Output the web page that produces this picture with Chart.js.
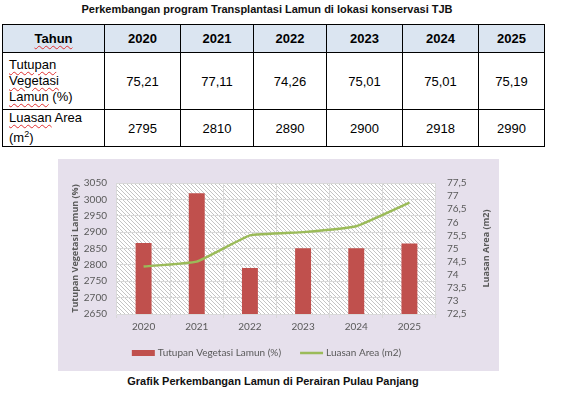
<!DOCTYPE html>
<html lang="id">
<head>
<meta charset="UTF-8">
<title>Perkembangan Lamun</title>
<script src="https://cdn.jsdelivr.net/npm/chart.js"></script>
<style>
  body { margin: 0; width: 568px; height: 412px; background: #fff; position: relative; overflow: hidden;
         font-family: "Liberation Sans", Arial, sans-serif; color: #000; }
  #title { position: absolute; left: 0; width: 534px; top: 3px; text-align: center; font-weight: bold; font-size: 11px; color: #111; }
  #tbl { position: absolute; left: 2px; top: 24px; border-collapse: collapse; table-layout: fixed; width: 542px; font-size: 13px; }
  #tbl td, #tbl th { border: 1px solid #000; text-align: center; padding: 0; }
  #tbl th { background: #dbe5f1; font-weight: bold; height: 27px; }
  #tbl td.head { text-align: left; padding-left: 6px; line-height: 16px; }
  .sp { text-decoration: underline wavy #e03030; text-decoration-thickness: 1px; text-underline-offset: 2px; }
  #panel { position: absolute; left: 58px; top: 159px; width: 441px; height: 212px; background: #e6e0ec; }
  #chart { position: absolute; left: 58px; top: 159px; }
  #caption { position: absolute; left: 0; width: 546px; top: 375px; text-align: center; font-weight: bold; font-size: 11px; color: #111; }
</style>
</head>
<body>
  <div id="title">Perkembangan program Transplantasi Lamun di lokasi konservasi TJB</div>
  <table id="tbl">
    <colgroup>
      <col style="width:102px"><col style="width:76px"><col style="width:73px"><col style="width:73px">
      <col style="width:76px"><col style="width:76px"><col style="width:66px">
    </colgroup>
    <thead><tr id="headRow"><th><span class="sp">Tahun</span></th></tr></thead>
    <tbody>
      <tr id="rowTutupan" style="height:57px"><td class="head"><span class="sp">Tutupan</span><br><span class="sp">Vegetasi</span><br><span class="sp">Lamun</span> (%)</td></tr>
      <tr id="rowLuasan" style="height:34px"><td class="head"><span class="sp">Luasan</span> Area<br>(m<sup style="font-size:9px">2</sup>)</td></tr>
    </tbody>
  </table>
  <div id="panel"></div>
  <canvas id="chart" width="441" height="212"></canvas>
  <div id="caption">Grafik Perkembangan Lamun di Perairan Pulau Panjang</div>

<script>
  const years = ['2020', '2021', '2022', '2023', '2024', '2025'];
  const tutupanVegetasi = [75.21, 77.11, 74.26, 75.01, 75.01, 75.19];
  const luasanArea = [2795, 2810, 2890, 2900, 2918, 2990];
  const leftAxis = [2650, 3050, 50];     // min, max, step
  const rightAxis = [72.5, 77.5, 0.5];

  const comma = v => String(v).replace('.', ',');

  // table rows from the same arrays
  const addCells = (rowId, values, tag) => {
    const row = document.getElementById(rowId);
    values.forEach(v => {
      const c = document.createElement(tag);
      c.textContent = v;
      row.appendChild(c);
    });
  };
  addCells('headRow', years, 'th');
  addCells('rowTutupan', tutupanVegetasi.map(v => v.toFixed(2).replace('.', ',')), 'td');
  addCells('rowLuasan', luasanArea, 'td');

  const grey = '#595959';
  const tickFont = { family: 'Lato', size: 10 };
  const titleFont = { family: '"Open Sans"', size: 9, weight: 'bold' };

  let hatch = null;
  const plotBackdrop = {
    id: 'plotBackdrop',
    beforeDraw(chart) {
      const { ctx, chartArea: a } = chart;
      if (!hatch) {
        const c = document.createElement('canvas');
        c.width = 4; c.height = 4;
        const g = c.getContext('2d');
        g.fillStyle = '#fff';
        g.fillRect(0, 0, 4, 4);
        g.strokeStyle = '#c4c4c4';
        g.lineWidth = 1;
        g.beginPath(); g.moveTo(-1, -1); g.lineTo(5, 5); g.stroke();
        hatch = ctx.createPattern(c, 'repeat');
      }
      ctx.save();
      ctx.fillStyle = hatch;
      ctx.fillRect(a.left, a.top, a.right - a.left, a.bottom - a.top);
      ctx.restore();
    }
  };

  // right axis title reads upward (like the left one) + simple legend row
  const extras = {
    id: 'extras',
    afterDraw(chart) {
      const ctx = chart.ctx;
      const y1 = chart.scales.y1;
      ctx.save();
      ctx.font = 'bold 9px "Open Sans"';
      ctx.fillStyle = grey;
      ctx.textAlign = 'center';
      ctx.textBaseline = 'middle';
      ctx.translate(y1.right - 13, (y1.top + y1.bottom) / 2);
      ctx.rotate(-Math.PI / 2);
      ctx.fillText(y1.options.title.text, 0, 0);
      ctx.restore();

      ctx.save();
      ctx.font = '10px Lato';
      ctx.textBaseline = 'middle';
      ctx.textAlign = 'left';
      const sw = 23, gap = 3, between = 19;
      const items = chart.data.datasets.map(ds => ({
        label: ds.label,
        isLine: ds.type === 'line',
        color: ds.type === 'line' ? ds.borderColor : ds.backgroundColor
      }));
      const widths = items.map(it => sw + gap + ctx.measureText(it.label).width);
      const total = widths.reduce((s, w) => s + w, 0) + between * (items.length - 1);
      let x = 208.5 - total / 2;
      const y = 194;
      items.forEach((it, i) => {
        if (it.isLine) {
          ctx.strokeStyle = it.color;
          ctx.lineWidth = 2.5;
          ctx.beginPath(); ctx.moveTo(x, y); ctx.lineTo(x + sw, y); ctx.stroke();
        } else {
          ctx.fillStyle = it.color;
          ctx.fillRect(x, y - 3, sw, 6);
        }
        ctx.fillStyle = grey;
        ctx.fillText(it.label, x + sw + gap, y);
        x += widths[i] + between;
      });
      ctx.restore();
    }
  };

  new Chart(document.getElementById('chart'), {
    type: 'bar',
    data: {
      labels: years,
      datasets: [
        {
          type: 'bar',
          label: 'Tutupan Vegetasi Lamun (%)',
          data: tutupanVegetasi,
          yAxisID: 'y1',
          backgroundColor: '#c0504d',
          barPercentage: 0.3,
          categoryPercentage: 1,
          order: 2
        },
        {
          type: 'line',
          label: 'Luasan Area (m2)',
          data: luasanArea,
          yAxisID: 'y',
          borderColor: '#9bbb59',
          borderWidth: 2.5,
          pointRadius: 0,
          tension: 0.1,
          order: 1
        }
      ]
    },
    options: {
      responsive: false,
      animation: false,
      layout: { padding: { top: 24, bottom: 33, left: 0, right: 0 } },
      plugins: { legend: { display: false }, tooltip: { enabled: false } },
      scales: {
        x: {
          grid: { color: '#d9d9d9', tickLength: 4, offset: true },
          border: { color: '#d9d9d9' },
          ticks: { color: grey, font: tickFont, padding: 3 },
          afterFit(s) { s.height = 24; }
        },
        y: {
          position: 'left',
          min: leftAxis[0], max: leftAxis[1],
          ticks: { stepSize: leftAxis[2], color: grey, font: tickFont, padding: 10, autoSkip: false,
                   callback: v => String(v) },
          grid: { color: '#d9d9d9', drawTicks: false },
          border: { display: false },
          title: { display: true, text: 'Tutupan Vegetasi Lamun (%)', color: grey,
                   font: titleFont, padding: { top: 12, bottom: 0 } },
          afterFit(s) { s.width = 59; }
        },
        y1: {
          position: 'right',
          min: rightAxis[0], max: rightAxis[1],
          ticks: { stepSize: rightAxis[2], color: grey, font: tickFont, padding: 11, autoSkip: false,
                   callback: v => comma(v) },
          grid: { display: false, drawTicks: false },
          border: { display: false },
          title: { display: false, text: 'Luasan Area (m2)' },
          afterFit(s) { s.width = 63; }
        }
      }
    },
    plugins: [plotBackdrop, extras]
  });
</script>
</body>
</html>
